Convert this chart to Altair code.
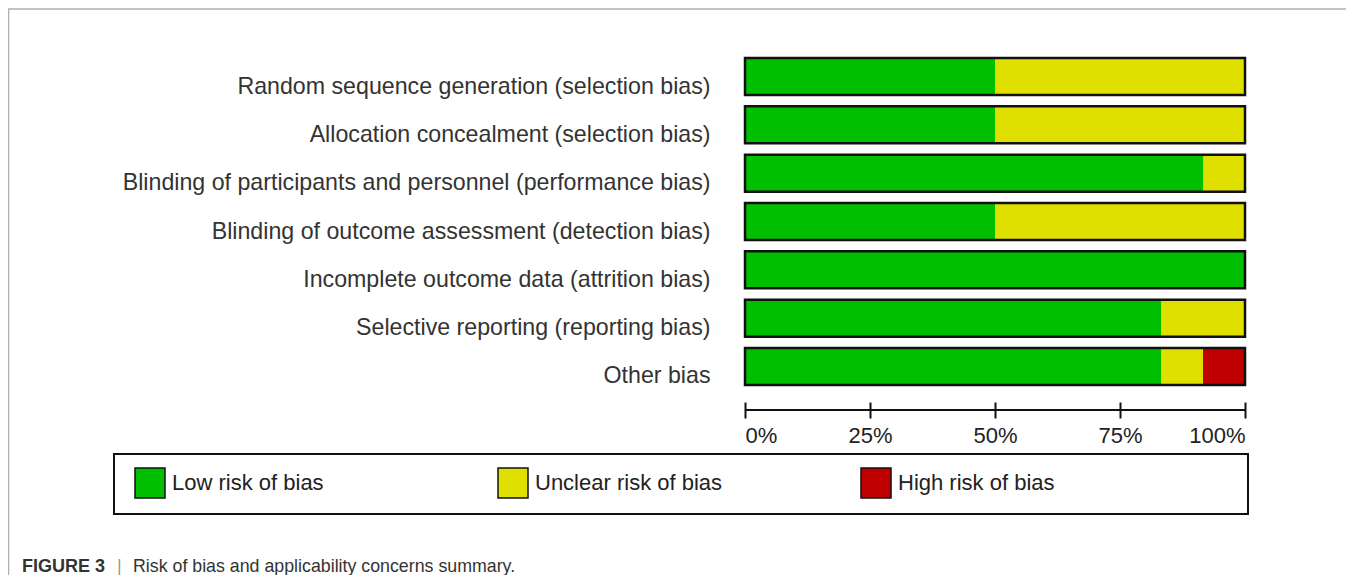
import altair as alt
import pandas as pd

categories = [
    "Random sequence generation (selection bias)",
    "Allocation concealment (selection bias)",
    "Blinding of participants and personnel (performance bias)",
    "Blinding of outcome assessment (detection bias)",
    "Incomplete outcome data (attrition bias)",
    "Selective reporting (reporting bias)",
    "Other bias",
]
low = [50.0, 50.0, 91.7, 50.0, 100.0, 83.3, 83.3]
unclear = [50.0, 50.0, 8.3, 50.0, 0.0, 16.7, 8.3]
high = [0.0, 0.0, 0.0, 0.0, 0.0, 0.0, 8.4]

levels = ["Low risk of bias", "Unclear risk of bias", "High risk of bias"]
colors = ["#00bf00", "#e0e000", "#c00000"]
ticks = [0, 25, 50, 75, 100]

rows = []
for i, c in enumerate(categories):
    for k, (lev, vals) in enumerate(zip(levels, [low, unclear, high])):
        rows.append({"cat": c, "risk": lev, "rank": k, "value": vals[i]})
df = pd.DataFrame(rows)
one = pd.DataFrame({"k": [0]})

FONT = "Liberation Sans"

xscale = alt.Scale(domain=[0, 100], nice=False, zero=True)
yscale = alt.Scale(domain=categories, paddingInner=0.234, paddingOuter=0.352)

bars = alt.Chart(df).mark_bar(strokeWidth=0).encode(
    x=alt.X("value:Q", stack="zero", scale=xscale,
            axis=alt.Axis(values=ticks, labelExpr="datum.value + '%'", title=None,
                          domain=False, grid=False, tickSize=16, tickWidth=2,
                          tickColor="#111", labelFlush=True, labelFontSize=22,
                          labelColor="#222", labelPadding=7, labelFont=FONT)),
    y=alt.Y("cat:N", scale=yscale, sort=categories,
            axis=alt.Axis(title=None, domain=False, ticks=False, labelFontSize=23.2,
                          labelColor="#333", labelPadding=35, labelLimit=800,
                          labelOffset=10, labelFont=FONT)),
    color=alt.Color("risk:N", scale=alt.Scale(domain=levels, range=colors),
                    legend=alt.Legend(title=None, orient="none", legendX=-611, legendY=426,
                                      direction="horizontal", columns=3, gridAlign="all",
                                      columnPadding=135, symbolType="square", symbolSize=900,
                                      symbolStrokeColor="#111", symbolStrokeWidth=1.5,
                                      symbolOpacity=1, labelFontSize=22, labelColor="#222",
                                      labelOffset=6, labelFont=FONT, padding=0, labelLimit=400)),
    order=alt.Order("rank:Q"),
)

outline = alt.Chart(df).mark_bar(filled=False, stroke="#111", strokeWidth=2.5).encode(
    x=alt.X("sum(value):Q", scale=xscale),
    y=alt.Y("cat:N", scale=yscale, sort=categories),
)

domain_rule = alt.Chart(one).mark_rule(color="#111", strokeWidth=2).encode(
    x=alt.datum(0), x2=alt.datum(100), y=alt.value(369)
)

legend_box = alt.Chart(one).mark_rect(filled=False, stroke="#111", strokeWidth=2).encode(
    x=alt.value(-631), x2=alt.value(503), y=alt.value(413), y2=alt.value(473)
)

frame = alt.Chart(one).mark_rect(filled=False, stroke="#b0b0b0", strokeWidth=1.5).encode(
    x=alt.value(-736.5), x2=alt.value(700), y=alt.value(-32), y2=alt.value(700)
)

cap1 = alt.Chart(one).mark_text(align="left", baseline="alphabetic", fontSize=18,
                                fontWeight="bold", color="#333", font=FONT).encode(
    x=alt.value(-723), y=alt.value(531), text=alt.value("FIGURE 3")
)
cap2 = alt.Chart(one).mark_text(align="left", baseline="alphabetic", fontSize=18,
                                color="#999", font=FONT).encode(
    x=alt.value(-628), y=alt.value(531), text=alt.value("|")
)
cap3 = alt.Chart(one).mark_text(align="left", baseline="alphabetic", fontSize=17.8,
                                color="#333", font=FONT).encode(
    x=alt.value(-612), y=alt.value(531),
    text=alt.value("Risk of bias and applicability concerns summary.")
)

chart = alt.layer(frame, legend_box, bars, outline, domain_rule, cap1, cap2, cap3).properties(
    width=500, height=361,
    autosize=alt.AutoSizeParams(type="none"),
    padding={"left": 737, "top": 33, "right": 101, "bottom": 173},
).configure(font=FONT, view=alt.ViewConfig(stroke="transparent", strokeWidth=0))

chart.save("out.html", embed_options={"renderer": "svg", "actions": False})
